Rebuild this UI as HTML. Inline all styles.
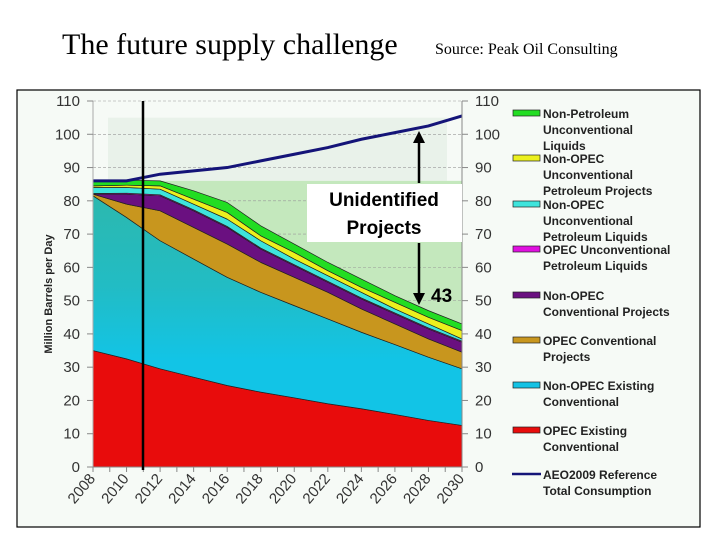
<!DOCTYPE html>
<html><head><meta charset="utf-8"><style>
body{margin:0;background:#fff;width:720px;height:540px;overflow:hidden}
svg{display:block}
text{font-family:"Liberation Sans",sans-serif}
</style></head><body>
<svg id="c" width="720" height="540" xmlns="http://www.w3.org/2000/svg">
<defs>
<linearGradient id="nonOpecGrad" gradientUnits="userSpaceOnUse" x1="0" y1="195" x2="0" y2="360">
<stop offset="0" stop-color="#2cb8ae"/><stop offset="0.55" stop-color="#22bcc4"/><stop offset="1" stop-color="#12c4e6"/>
</linearGradient>
</defs>
<text x="62" y="54" style="font-family:'Liberation Serif',serif" font-size="30">The future supply challenge</text>
<text x="435" y="54" style="font-family:'Liberation Serif',serif" font-size="16">Source: Peak Oil Consulting</text>
<rect x="17" y="90" width="683" height="437" fill="#f6faf6" stroke="#000" stroke-width="1.2"/>
<g id="plot"></g>
<g id="legend"></g>
</svg>
<script>
const years=[2008,2010,2012,2014,2016,2018,2020,2022,2024,2026,2028,2030];
const opecExisting=[35,32.5,29.5,27,24.5,22.5,20.8,19,17.5,15.8,14,12.5];
const nonOpecExisting=[46.5,42.5,38.5,35.5,32.5,30,27.7,25.5,23,21,19,17];
const opecConvProjects=[0.5,4,9,9.5,10,9,8.5,8,7,6.2,5.5,5];
const nonOpecConvProjects=[0,3,4.5,5,5,4,3.5,3,3,3,3,3];
const opecUnconv=[0.2,0.3,0.3,0.3,0.3,0.3,0.3,0.3,0.3,0.3,0.3,0.3];
const nonOpecUnconvLiquids=[1.8,1.7,1.7,1.7,2.2,2.2,1.7,1.7,1.7,1.2,1.2,0.7];
const nonOpecUnconvProjects=[0.5,0.7,1,1.5,2,1.5,2,1.5,1.5,2,2,2.5];
const nonPetroleum=[1.5,1.5,1.5,2.5,3,3,2.5,2.5,2.5,2,2,2];
const aeoReference=[86,86,88,89,90,92,94,96,98.5,100.5,102.5,105.5];
const yTicks=[0,10,20,30,40,50,60,70,80,90,100,110];
const xLabels=[2008,2010,2012,2014,2016,2018,2020,2022,2024,2026,2028,2030];

const NS="http://www.w3.org/2000/svg";
const X0=93,X1=462,Y0=467,Y1=101;
const x=y=>X0+(y-2008)/(2030-2008)*(X1-X0);
const yv=v=>Y0-v/110*(Y0-Y1);
const plot=document.getElementById('plot');
function mk(t,a,p){const e=document.createElementNS(NS,t);for(const k in a)e.setAttribute(k,a[k]);(p||plot).appendChild(e);return e;}

let bg=mk('rect',{x:108,y:yv(105),width:339,height:yv(86)-yv(105),fill:'#e9f2ea'});


let bg2=mk('rect',{x:108,y:yv(86),width:X1-108,height:Y0-yv(86),fill:'#c4e8bd'});



yTicks.forEach(t=>{
  if(t>0){let g=mk('line',{x1:X0,x2:X1,y1:yv(t),y2:yv(t),stroke:'#999','stroke-dasharray':'3,2','stroke-width':0.6});
  
  }
});

const series=[
 ['opec-existing-area',opecExisting,'#e80c0c'],
 ['non-opec-existing-area',nonOpecExisting,'url(#nonOpecGrad)'],
 ['opec-conventional-projects-area',opecConvProjects,'#c8961e'],
 ['non-opec-conventional-projects-area',nonOpecConvProjects,'#6a1080'],
 ['opec-unconventional-area',opecUnconv,'#e010e0'],
 ['non-opec-unconventional-liquids-area',nonOpecUnconvLiquids,'#3ee4dc'],
 ['non-opec-unconventional-projects-area',nonOpecUnconvProjects,'#ecf01e'],
 ['non-petroleum-area',nonPetroleum,'#22dd22']
];
let base=years.map(()=>0);
series.forEach(([name,vals,col])=>{
  const top=base.map((b,i)=>b+vals[i]);
  let d='M'+years.map((yr,i)=>x(yr)+','+yv(top[i])).join('L');
  for(let i=years.length-1;i>=0;i--)d+='L'+x(years[i])+','+yv(base[i]);
  d+='Z';
  let p=mk('path',{d:d,fill:col,stroke:'#222','stroke-width':0.7,'stroke-linejoin':'round'});
  
  
  base=top;
});

let ref=mk('path',{d:'M'+years.map((yr,i)=>x(yr)+','+yv(aeoReference[i])).join('L'),fill:'none',stroke:'#141478','stroke-width':3});



let ax=mk('line',{x1:X0,x2:X0,y1:Y1,y2:Y0,stroke:'#aaa'});

let ax2=mk('line',{x1:X1,x2:X1,y1:Y1,y2:Y0,stroke:'#888'});

let ax3=mk('line',{x1:X0,x2:X1,y1:Y0,y2:Y0,stroke:'#888'});


yTicks.forEach(t=>{
  mk('line',{x1:X0-6,x2:X0,y1:yv(t),y2:yv(t),stroke:'#888'});
  mk('line',{x1:X1,x2:X1+6,y1:yv(t),y2:yv(t),stroke:'#888'});
  let l=mk('text',{x:80,y:yv(t)+5,'text-anchor':'end','font-size':15,fill:'#333'});l.textContent=t;
  
  let r=mk('text',{x:475,y:yv(t)+5,'font-size':15,fill:'#333'});r.textContent=t;
  
});
for(let yr=2008;yr<=2030;yr++){mk('line',{x1:x(yr),x2:x(yr),y1:Y0,y2:Y0+5,stroke:'#888'});}
xLabels.forEach(yr=>{
  let t=mk('text',{x:0,y:0,'text-anchor':'end','font-size':15,fill:'#333',transform:`translate(${x(yr)+3},${Y0+12}) rotate(-50)`});
  t.textContent=yr;
  
  
});
let yt=mk('text',{x:0,y:0,'text-anchor':'middle','font-size':11,'font-weight':'bold',fill:'#222',transform:`translate(52,${(Y0+Y1)/2+10}) rotate(-90)`});
yt.textContent='Million Barrels per Day';


let vm=mk('line',{x1:143,x2:143,y1:101,y2:470,stroke:'#000','stroke-width':2.5});


let bx=mk('rect',{x:307,y:184,width:155,height:58,fill:'#fff'});

let a1=mk('text',{x:384,y:206,'text-anchor':'middle','font-size':19,'font-weight':'bold'});a1.textContent='Unidentified';

let a2=mk('text',{x:384,y:234,'text-anchor':'middle','font-size':19,'font-weight':'bold'});a2.textContent='Projects';

mk('line',{x1:419,x2:419,y1:140,y2:183,stroke:'#000','stroke-width':2.5});
mk('path',{d:'M413,143 L419,131 L425,143 Z',fill:'#000'});
mk('line',{x1:419,x2:419,y1:243,y2:296,stroke:'#000','stroke-width':2.5});
mk('path',{d:'M413,293 L419,305 L425,293 Z',fill:'#000'});
let g43=mk('text',{x:431,y:302,'font-size':19,'font-weight':'bold'});g43.textContent='43';


const leg=document.getElementById('legend');
const legendItems=[
 [113,'#22dd22',['Non-Petroleum','Unconventional','Liquids']],
 [158,'#ecf01e',['Non-OPEC','Unconventional','Petroleum Projects']],
 [204,'#3ee4dc',['Non-OPEC','Unconventional','Petroleum Liquids']],
 [249,'#e010e0',['OPEC Unconventional','Petroleum Liquids']],
 [295,'#6a1080',['Non-OPEC','Conventional Projects']],
 [340,'#c8961e',['OPEC Conventional','Projects']],
 [385,'#14c2e4',['Non-OPEC Existing','Conventional']],
 [430,'#e80c0c',['OPEC Existing','Conventional']],
 [474,null,['AEO2009 Reference','Total Consumption']]
];
legendItems.forEach(([cy,col,lines])=>{
  const g=mk('g',{},leg);
  
  
  if(col) mk('rect',{x:513,y:cy-3,width:27,height:6,fill:col,stroke:'#222','stroke-width':0.7},g);
  else mk('line',{x1:512,x2:541,y1:cy,y2:cy,stroke:'#141478','stroke-width':2.5},g);
  lines.forEach((s,i)=>{const t=mk('text',{x:543,y:cy+5+i*16,'font-size':12,'font-weight':'bold',fill:'#222'},g);t.textContent=s;});
});
</script>
</body></html>
